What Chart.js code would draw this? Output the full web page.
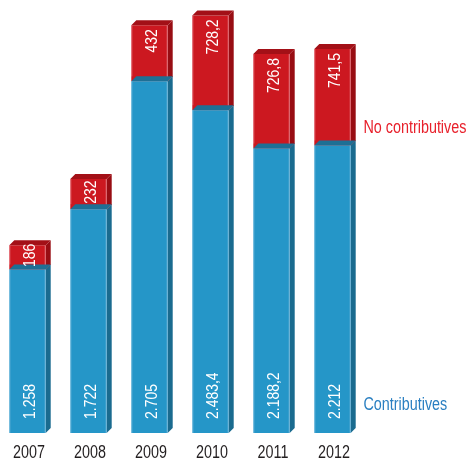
<!DOCTYPE html>
<html>
<head>
<meta charset="utf-8">
<script src="https://cdn.jsdelivr.net/npm/chart.js@4.4.1/dist/chart.umd.min.js"></script>
<style>
    html, body { margin: 0; padding: 0; background: #fff; overflow: hidden; }
    #wrap { position: absolute; left: -3px; top: 0; width: 474px; height: 461px; }
</style>
</head>
<body>
<div id="wrap"><canvas id="chart" width="474" height="461"></canvas></div>
<script>
const years = ['2007', '2008', '2009', '2010', '2011', '2012'];
const contributives = [1258, 1722, 2705, 2483.4, 2188.2, 2212];
const noContributives = [186, 232, 432, 728.2, 726.8, 741.5];
const seriesNames = ['Contributives', 'No contributives'];
const yMax = 3300;

// no condensed font installed, so squeeze Liberation Sans horizontally
const FONT = '"Liberation Sans", Arial, sans-serif';
const SQUEEZE = 0.82;
const DEPTH = 5;

const colors = {
    blue: { front: '#2596c8', side: '#1a6b8f', top: '#1e6f95', edge: 'rgba(140,200,230,0.7)', text: '#2a7fc1' },
    red: { front: '#cc1820', side: '#980d13', top: '#a31017', edge: 'rgba(240,140,150,0.7)', text: '#e8202b' }
};

// Spanish style number: 2.483,4
function fmt(v) {
    const parts = String(v).split('.');
    const int = parts[0].replace(/\B(?=(\d{3})+(?!\d))/g, '.');
    return parts[1] ? int + ',' + parts[1] : int;
}

function poly(ctx, pts, fill) {
    ctx.beginPath();
    ctx.moveTo(pts[0][0], pts[0][1]);
    pts.slice(1).forEach(p => ctx.lineTo(p[0], p[1]));
    ctx.closePath();
    ctx.fillStyle = fill;
    ctx.fill();
}

// condensed text at (x, y), optionally rotated
function narrowText(ctx, text, x, y, align, angle) {
    ctx.save();
    ctx.translate(x, y);
    if (angle) ctx.rotate(angle);
    ctx.scale(SQUEEZE, 1);
    ctx.textAlign = align;
    ctx.textBaseline = 'alphabetic';
    ctx.fillText(text, 0, 0);
    ctx.restore();
}

const bars3d = {
    id: 'bars3d',
    afterDatasetsDraw(chart) {
        const ctx = chart.ctx;
        const blueBars = chart.getDatasetMeta(0).data;
        const redBars = chart.getDatasetMeta(1).data;
        ctx.save();

        years.forEach((year, i) => {
            const b = blueBars[i], r = redBars[i];
            const x0 = b.x - b.width / 2, x1 = b.x + b.width / 2;
            const yBase = b.base, yBlue = b.y, yRed = r.y;
            const d = DEPTH;

            // side faces
            poly(ctx, [[x1, yBase], [x1 + d, yBase - d], [x1 + d, yBlue - d], [x1, yBlue]], colors.blue.side);
            poly(ctx, [[x1, yBlue], [x1 + d, yBlue - d], [x1 + d, yRed - d], [x1, yRed]], colors.red.side);
            // top faces
            poly(ctx, [[x0, yRed], [x1, yRed], [x1 + d, yRed - d], [x0 + d, yRed - d]], colors.red.top);
            poly(ctx, [[x0, yBlue], [x1, yBlue], [x1 + d, yBlue - d], [x0 + d, yBlue - d]], colors.blue.top);

            // light front edges
            ctx.fillStyle = colors.blue.edge;
            ctx.fillRect(x0, yBlue, 1, yBase - yBlue);
            ctx.fillRect(x1 - 1, yBlue, 1, yBase - yBlue);
            ctx.fillStyle = colors.red.edge;
            ctx.fillRect(x0, yRed, 1, yBlue - yRed - d);
            ctx.fillRect(x1 - 1, yRed, 1, yBlue - yRed - d);

            // value labels, rotated
            ctx.font = '17px ' + FONT;
            ctx.fillStyle = '#ffffff';
            narrowText(ctx, fmt(contributives[i]), b.x + 7.5, yBase - 14, 'left', -Math.PI / 2);

            const redText = fmt(noContributives[i]);
            const w = ctx.measureText(redText).width * SQUEEZE;
            const h = yBlue - yRed;
            const topY = Math.min(yRed + 4, yRed + (h - w) / 2 - 2);
            narrowText(ctx, redText, b.x + 7.5, topY, 'right', -Math.PI / 2);

            // year labels
            ctx.font = '17.5px ' + FONT;
            ctx.fillStyle = '#231f20';
            narrowText(ctx, year, b.x + 1.5, yBase + 25, 'center');
        });

        // series names at right
        const area = chart.chartArea;
        ctx.font = '17.5px ' + FONT;
        ctx.fillStyle = colors.red.text;
        narrowText(ctx, seriesNames[1], area.right + 0.5, 133, 'left');
        ctx.fillStyle = colors.blue.text;
        narrowText(ctx, seriesNames[0], area.right + 0.5, 410, 'left');

        ctx.restore();
    }
};

new Chart(document.getElementById('chart'), {
    type: 'bar',
    data: {
        labels: years,
        datasets: [
            {
                label: seriesNames[0],
                data: contributives,
                backgroundColor: colors.blue.front,
                borderWidth: 0,
                barPercentage: 0.597,
                categoryPercentage: 1
            },
            {
                label: seriesNames[1],
                data: noContributives,
                backgroundColor: colors.red.front,
                borderWidth: 0,
                barPercentage: 0.597,
                categoryPercentage: 1
            }
        ]
    },
    options: {
        responsive: false,
        animation: false,
        layout: { padding: { left: 0, right: 108, top: 4, bottom: 28 } },
        plugins: {
            legend: { display: false },
            tooltip: { enabled: false }
        },
        scales: {
            x: { stacked: true, display: false },
            y: { stacked: true, display: false, min: 0, max: yMax }
        }
    },
    plugins: [bars3d]
});
</script>
</body>
</html>
